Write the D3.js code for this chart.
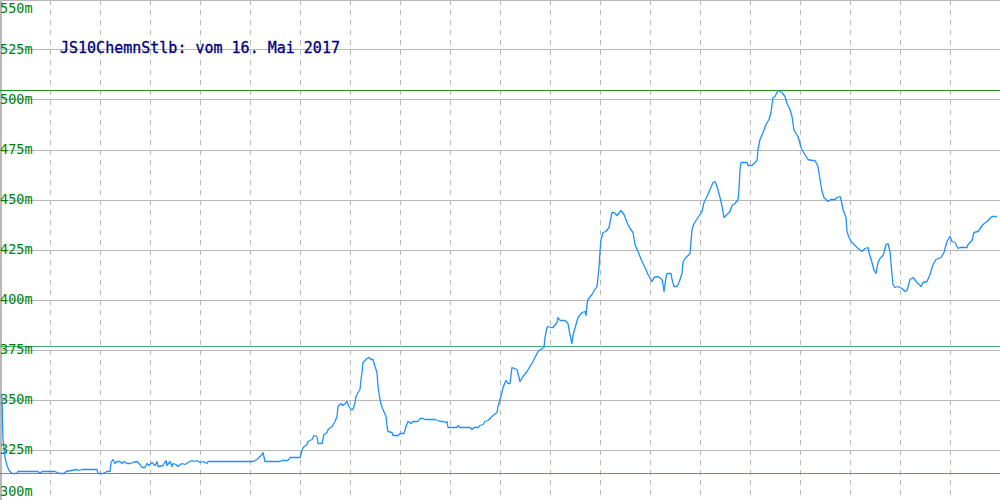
<!DOCTYPE html>
<html>
<head>
<meta charset="utf-8">
<script src="https://cdn.jsdelivr.net/npm/d3@7"></script>
<style>
  html, body { margin: 0; padding: 0; background: #fff; }
  svg { display: block; }
</style>
</head>
<body>
<svg id="chart" width="1000" height="500"></svg>
<script>
// ---- data ----
const title = "JS10ChemnStlb: vom 16. Mai 2017";
const yTicks = [300, 325, 350, 375, 400, 425, 450, 475, 500, 525, 550];
const xGridTicks = [50,100,150,200,250,300,350,400,450,500,550,600,650,700,750,800,850,900,950];
const sampleIndex = [1,2,3,5,7,9,12,17,18,38,40,42,55,60,64,66,77,79,82,97,98,103,107,110,111,113,115,117,120,122,124,127,130,133,137,140,142,145,147,149,152,155,157,158,163,166,167,170,172,173,176,178,182,185,188,192,194,197,200,203,207,208,250,253,257,262,263,265,280,282,288,290,300,302,303,307,308,312,314,317,318,322,324,327,328,332,335,337,338,341,343,347,349,351,353,355,356,358,360,361,362,363,365,367,369,371,373,375,377,378,380,381,383,386,387,388,392,393,398,400,404,406,408,411,413,418,420,423,425,435,438,440,443,445,447,448,457,458,460,470,472,474,478,480,483,485,488,493,497,498,500,502,503,506,508,510,512,517,520,523,527,530,533,538,542,544,545,547,548,551,553,557,558,560,565,568,569,571,572,573,576,578,582,585,586,587,588,592,595,597,598,599,600,601,603,606,609,612,614,617,621,624,627,630,633,635,638,642,645,648,652,654,658,662,663,664,666,667,671,672,674,677,679,682,683,685,690,692,694,698,702,704,707,710,713,715,717,720,722,724,727,730,732,735,738,739,740,741,747,748,752,757,758,760,763,766,769,771,773,775,777,778,782,785,787,790,792,794,798,801,803,808,812,815,818,820,822,824,828,831,835,837,840,841,843,846,847,849,852,857,862,865,868,869,872,874,876,878,880,883,884,886,888,890,892,893,895,898,902,905,907,910,913,917,921,923,927,930,933,936,941,944,947,950,952,955,958,960,967,968,972,974,978,983,987,992,997];
const heightM = [352,351,330,321,317,314.5,313,313,314,314,313,314,314,313,313,314,315,314.5,315,315,313,313,314,314,318.5,320,318,319,319,318,319,318,318,318.5,319,317.5,316,316,318,317,318.5,317,319,316.5,317,319.5,317,319,316.5,318,317.5,316.5,318,317.5,318.5,319.5,319,319.5,318.5,319,318,319,319,319,320,322.5,323.5,319,319,319.5,319.5,321,321,324.5,326,327.5,329,330,332,331.5,328,328,332.5,333.5,335,336.5,339,341.5,346.5,348,347,349,346.5,345,345,348.5,351.5,353.5,355,360,363.5,368.5,369.5,370.5,371,370,370,366.5,363.5,356.5,350,347.5,345,341.5,336.5,334,333.5,332,332,333,333,336.5,339,338,339,339,340.5,340.5,340,340,339.5,339,339,338.5,339,336,336,337,336,336,335,336,336,337,337.5,339,339.5,342,343.5,346.5,350,353.5,356,359.5,358,358,366,365,359,361.5,364,366.5,369,374,375.5,376,381,386,386.5,386,386,388.5,391,389.5,389.5,388,385,380,378,382,387.5,391,393.5,394,392,397.5,400,402.5,405,406.5,411,416,424,430,433.5,434,436,443.5,443.5,442,444.5,442.5,438.5,435.5,433.5,427.5,424,419,416,412.5,409,411,411.5,410,407.5,404,411,413,413,410,406.5,406.5,408.5,413,418.5,420.5,423,435,438,441,444,448.5,451.5,455,458.5,459,456.5,451,446.5,441,442.5,444,447,448,450,455,465,468.5,468.5,467,467,469.5,475,480,483.5,487.5,490,493.5,501,501.5,503.5,504.5,503.5,501.5,498,495,491.5,484.5,481.5,476,474,470,469.5,469.5,466.5,460,454,451,449,450,450,451,451.5,450,445,441,434,431,428.5,426,424,425.5,426,423.5,418.5,414.5,413,418.5,420.5,422,423.5,427.5,428,424,412.5,407.5,406,406.5,405.5,404,404.5,410,411,408.5,406.5,408.5,409,412.5,417.5,420,421,423.5,429,431.5,429,428.5,425.5,426,426,427.5,429.5,433.5,434,437.5,439,441.5,441.5];
const refMax = 505;
const refMid = 377;
const refMin = 313;

// ---- chart ----
const W = 1000, H = 500;
const svg = d3.select("#chart");
const x = d3.scaleLinear().domain([0, 1000]).range([0, W]);
const y = d3.scaleLinear().domain([300, 550]).range([H - 0.5, -0.5]);

// horizontal grid
svg.append("g").selectAll("line").data(yTicks).join("line")
  .attr("x1", 0).attr("x2", W)
  .attr("y1", d => Math.round(y(d)) + 0.5).attr("y2", d => Math.round(y(d)) + 0.5)
  .attr("stroke", "#b8b8b8").attr("stroke-width", 1);

// vertical dashed grid
svg.append("g").selectAll("line").data(xGridTicks).join("line")
  .attr("x1", d => Math.round(x(d)) + 0.5).attr("x2", d => Math.round(x(d)) + 0.5)
  .attr("y1", 0).attr("y2", H)
  .attr("stroke", "#b8b8b8").attr("stroke-width", 1)
  .attr("stroke-dasharray", "5,5");

// left border
svg.append("line").attr("x1", 1).attr("x2", 1).attr("y1", 0).attr("y2", H)
  .attr("stroke", "#b8b8b8").attr("stroke-width", 2);

// reference lines
const refs = [
  {v: refMax, c: "#1f8f1f"},
  {v: refMid, c: "#3cb371"},
  {v: refMin, c: "#20b2aa"}
];
svg.append("g").selectAll("line").data(refs).join("line")
  .attr("x1", 0).attr("x2", W)
  .attr("y1", d => Math.round(y(d.v)) + 0.5).attr("y2", d => Math.round(y(d.v)) + 0.5)
  .attr("stroke", d => d.c).attr("stroke-width", 1);

// y labels
svg.append("g").selectAll("text").data(yTicks).join("text")
  .attr("x", 0)
  .attr("y", d => Math.min(491, Math.max(8, y(d))))
  .attr("dy", "0.36em")
  .attr("fill", "#008000")
  .attr("font-family", "'DejaVu Sans Mono', 'Liberation Mono', monospace")
  .attr("font-size", 13.5)
  .text(d => d + "m");

// data line
const pts = sampleIndex.map((s, i) => [s, heightM[i]]);
svg.append("path")
  .attr("d", d3.line().x(d => x(d[0])).y(d => y(d[1]))(pts))
  .attr("fill", "none")
  .attr("stroke", "#1e90ff")
  .attr("stroke-width", 1.3)
  .attr("stroke-linejoin", "round");

// title
svg.append("text")
  .attr("x", 60).attr("y", 48).attr("dy", "0.36em")
  .attr("fill", "#000080")
  .attr("font-family", "'DejaVu Sans Mono', 'Liberation Mono', monospace")
  .attr("font-size", 15)
  .attr("stroke", "#000080").attr("stroke-width", 0.3)
  .text(title);
</script>
</body>
</html>
